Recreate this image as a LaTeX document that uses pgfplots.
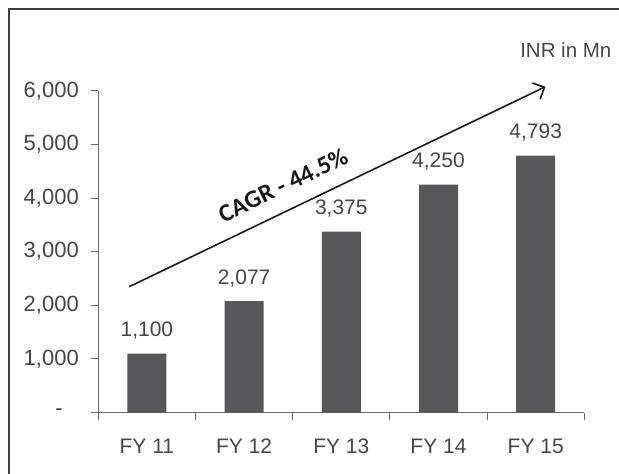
\documentclass[border=0pt]{standalone}
\usepackage{pgfplots}
\pgfplotsset{compat=1.18}
\usepackage{fontspec}
\setmainfont{Liberation Sans}
\newfontfamily\cagrfont{Carlito}
\usetikzlibrary{arrows.meta}
\definecolor{barc}{HTML}{58585A}
\definecolor{txt}{HTML}{464646}
\definecolor{axc}{HTML}{6A6A6A}

\begin{document}
\begin{tikzpicture}
\useasboundingbox (-98.3pt,-61.5pt) rectangle (520.7pt,412.5pt);
\draw[line width=1.3pt, color=black!75] (-89.3pt,-80pt) -- (-89.3pt,403.5pt) -- (540pt,403.5pt);
\begin{axis}[
  scale only axis, width=486pt, height=321.6pt,
  xmin=-0.5, xmax=4.5, ymin=0, ymax=6000,
  axis x line*=bottom, axis y line*=left,
  axis line style={axc, line width=1.1pt, -},
  xtick={0,...,4},
  xticklabels={FY 11,FY 12,FY 13,FY 14,FY 15},
  minor xtick={-0.5,0.5,1.5,2.5,3.5,4.5},
  ytick={0,1000,2000,3000,4000,5000,6000},
  yticklabels={{-\hspace*{16pt}},{1,000},{2,000},{3,000},{4,000},{5,000},{6,000}},
  tick align=outside,
  major tick length=7pt, minor tick length=7pt,
  major x tick style={draw=none},
  minor x tick style={axc, line width=1.1pt},
  y tick style={axc, line width=1.1pt},
  tick label style={font=\fontsize{21}{25}\selectfont, text=txt},
  y tick label style={font=\fontsize{22}{26}\selectfont, xshift=-9pt},
  x tick label style={yshift=-16pt},
  clip=false,
  ybar, bar width=39pt,
  nodes near coords,
  point meta=explicit symbolic,
  every node near coord/.append style={anchor=base, inner sep=0pt, yshift=16.7pt, font=\fontsize{21}{25}\selectfont, text=txt},
]
\addplot[fill=barc, draw=none] coordinates {
  (0,1100) [1,100]
  (1,2077) [2,077]
  (2,3375) [3,375]
  (3,4250) [4,250]
  (4,4793) [4,793]
};
\draw[-{Straight Barb[length=9pt,width=18pt]}, line width=1.6pt, black!90]
  (axis cs:-0.182,2347) -- (axis cs:4.10,6078);
\node[rotate=25.7, font=\cagrfont\bfseries\fontsize{25}{28}\selectfont, text=black!90]
  at (axis cs:1.40,4244) {CAGR - 44.5\%};
\node[font=\fontsize{20.5}{24}\selectfont, text=txt] at (axis cs:4.31,6763) {INR in Mn};
\end{axis}
\end{tikzpicture}
\end{document}
